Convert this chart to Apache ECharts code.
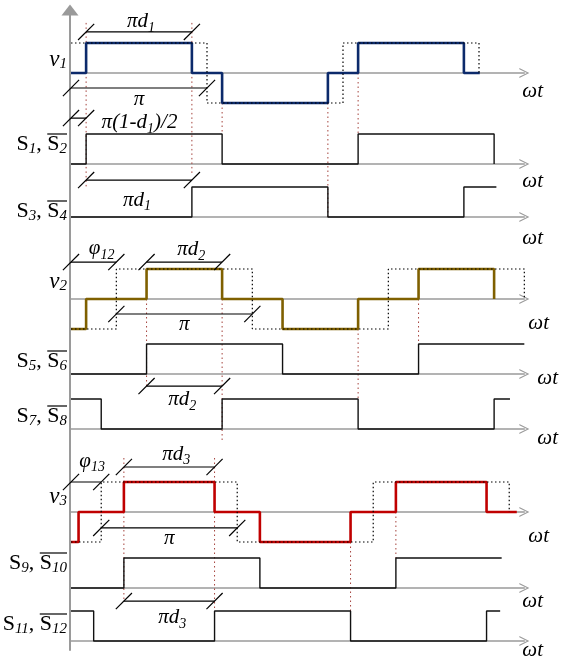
<!DOCTYPE html>
<html><head><meta charset="utf-8">
<script src="https://cdn.jsdelivr.net/npm/echarts@6/dist/echarts.min.js"></script>
<style>html,body{margin:0;padding:0;background:#fff}#c{width:565px;height:660px}</style>
</head><body><div id="c"></div><script>
// Time axis in electrical degrees (pi = 180).
// Waveforms: [time, level] pairs, level held until the next pair.
const v1Wave = [[0,0],[20,1],[160,0],[200,-1],[340,0],[380,1],[520,0],[541,0]];
const v1Square = [[0,1],[180,-1],[360,1],[540,0]];
const s1Wave = [[0,0],[20,1],[200,0],[380,1],[560,0]];
const s3Wave = [[0,0],[160,1],[340,0],[520,1],[563,1]];
const v2Wave = [[0,-1],[20,0],[100,1],[200,0],[280,-1],[380,0],[460,1],[560,0]];
const v2Square = [[0,-1],[60,1],[240,-1],[420,1],[600,0]];
const s5Wave = [[0,0],[100,1],[280,0],[460,1],[600,1]];
const s7Wave = [[0,1],[40,0],[200,1],[380,0],[560,1],[581,1]];
const v3Wave = [[0,-1],[10,0],[70,1],[190,0],[250,-1],[370,0],[430,1],[550,0],[590,0]];
const v3Square = [[0,-1],[40,1],[220,-1],[400,1],[580,0]];
const s9Wave = [[0,0],[70,1],[250,0],[430,1],[570,1]];
const s11Wave = [[0,1],[30,0],[190,1],[370,0],[550,1],[568,1]];

// Dimension marks: [row, from, to, level, text, subscript, tail]
const dimensions = [
  ['v1', 20, 160, 1.37, 'πd', '1', ''],
  ['v1', 0, 180, -0.5, 'π', '', ''],
  ['s1', 0, 20, 1.53, 'π(1-d', '1', ')/2'],
  ['s3', 20, 160, 1.23, 'πd', '1', ''],
  ['v2', 0, 60, 1.23, 'φ', '12', ''],
  ['v2', 100, 200, 1.23, 'πd', '2', ''],
  ['v2', 60, 240, -0.5, 'π', '', ''],
  ['s7', 100, 200, 1.43, 'πd', '2', ''],
  ['v3', 0, 40, 1.0, 'φ', '13', ''],
  ['v3', 70, 190, 1.5, 'πd', '3', ''],
  ['v3', 40, 220, -0.53, 'π', '', ''],
  ['s11', 70, 190, 1.33, 'πd', '3', '']
];
// Switching-instant guides: [time, fromRow, fromLevel, toRow, toLevel]
const guides = [
  [20, 'v1', 1.67, 's3', 1.0],
  [160, 'v1', 1.67, 's3', 1.47],
  [200, 'v1', -1, 's1', 1],
  [340, 'v1', -1, 's3', 0],
  [380, 'v1', 0, 's1', 1],
  [100, 'v2', 0, 's7', 1.43],
  [200, 'v2', 0, 's7', -0.37],
  [380, 'v2', -1, 's7', 1],
  [460, 'v2', 0, 's5', 1],
  [70, 'v3', 1.8, 's11', 1.33],
  [190, 'v3', 1.8, 's11', 1],
  [370, 'v3', -1, 's11', 1],
  [430, 'v3', 0, 's9', 1]
];
// Row names and labels: [main, subscript] pairs; the second pair carries an overbar
const rowNames = ['v1','s1','s3','v2','s5','s7','v3','s9','s11'];
const rowLabels = [
  [['v','1']], [['S','1'],['S','2']], [['S','3'],['S','4']],
  [['v','2']], [['S','5'],['S','6']], [['S','7'],['S','8']],
  [['v','3']], [['S','9'],['S','10']], [['S','11'],['S','12']]
];
const axisName = 'ωt';

// ---- layout ----
const rowBase = {v1:73, s1:164, s3:217, v2:299, s5:374, s7:429, v3:512, s9:588, s11:641};
const labelY = {v1:60, s1:145, s3:212, v2:282, s5:362, s7:417, v3:497, s9:564, s11:625};
const nameOff = {v1:[-2,91], s1:[-2,181], s3:[-2,238], v2:[4,323], s5:[13,378], s7:[13,438], v3:[4,536], s9:[-2,601], s11:[-2,650]};
// label offsets of the dimension texts from the middle of their lines, px
const dimLabelOff = [[2,-9],[0,13],[4,6],[-2,21.5],[8,-12],[7,-11],[0,11.5],[-2,15],[6,-19.5],[7,-11.5],[0,12],[3,18]];
const UNIT = 30, X0 = 71, PI_PX = 136, T_MAX = 600;
const gridW = T_MAX / 180 * PI_PX;
const FONT = '"Liberation Serif", "DejaVu Serif", serif';
const AXIS_GRAY = '#9a9a9a';
const rowIdx = Object.fromEntries(rowNames.map((r, i) => [r, i]));
const chevron = 'path://M5,0 L10,10 L8.8,10 L5,2.4 L1.2,10 L0,10 Z';
const slash = 'path://M0,19 L19,0 L20,1 L1,20 Z';
const isV = r => r[0] === 'v';
const yMin = r => isV(r) ? -2.5 : -0.5;
const yMax = 2.5;

const grid = rowNames.map(r => ({
  left: X0, top: rowBase[r] - yMax * UNIT, width: gridW, height: (yMax - yMin(r)) * UNIT,
  outerBoundsMode: 'none'
}));
grid.push({left: 70, top: 10, width: 10, height: 640, outerBoundsMode: 'none'});

const xAxis = rowNames.map((r, i) => ({
  gridIndex: i, type: 'value', min: 0, max: T_MAX,
  axisLine: {show: true, onZero: true, symbol: ['none', chevron], symbolSize: [15, 10],
    lineStyle: {color: AXIS_GRAY, width: 1.5}},
  axisTick: {show: false}, axisLabel: {show: false}, splitLine: {show: false}
}));
xAxis.push({gridIndex: 9, type: 'value', show: false});
const yAxis = rowNames.map((r, i) => ({
  gridIndex: i, type: 'value', min: yMin(r), max: yMax,
  axisLine: {show: false}, axisTick: {show: false}, axisLabel: {show: false}, splitLine: {show: false}
}));
yAxis.push({gridIndex: 9, type: 'value', min: 0, max: 1,
  axisLine: {show: true, onZero: false, symbol: ['none', 'triangle'], symbolSize: [17, 11],
    lineStyle: {color: AXIS_GRAY, width: 2}},
  axisTick: {show: false}, axisLabel: {show: false}, splitLine: {show: false}});

const series = [];
const onRow = r => ({xAxisIndex: rowIdx[r], yAxisIndex: rowIdx[r]});

// switching guides (drawn first, underneath)
guides.forEach(([t, ra, la, rb, lb]) => {
  const lbInA = lb - (rowBase[rb] - rowBase[ra]) / UNIT;
  series.push(Object.assign({
    type: 'line', data: [[t, la], [t, lbInA]], symbol: 'none', clip: false, silent: true, z: 1,
    lineStyle: {color: '#a4423c', width: 1, type: [1.5, 3]}
  }, onRow(ra)));
});

// waveforms
const waves = [
  ['v1', v1Wave, '#0c2a6b', 2.6], ['s1', s1Wave, '#111', 1.4], ['s3', s3Wave, '#111', 1.4],
  ['v2', v2Wave, '#7f6000', 2.6], ['s5', s5Wave, '#111', 1.4], ['s7', s7Wave, '#111', 1.4],
  ['v3', v3Wave, '#c00000', 2.6], ['s9', s9Wave, '#111', 1.4], ['s11', s11Wave, '#111', 1.4]
];
waves.forEach(([r, d, c, w]) => series.push(Object.assign({
  type: 'line', data: d, step: 'end', symbol: 'none', silent: true, z: 3,
  lineStyle: {color: c, width: w}
}, onRow(r))));

// fundamental square waves (dotted)
[['v1', v1Square], ['v2', v2Square], ['v3', v3Square]].forEach(([r, d]) => series.push(Object.assign({
  type: 'line', data: d, step: 'end', symbol: 'none', silent: true, z: 4,
  lineStyle: {color: '#000', width: 1.2, type: [1.5, 2.5]}
}, onRow(r))));

// rich text styles shared by labels
const LH = 24;
const richStyles = (size, subSize, italicMain) => ({
  m: {fontFamily: FONT, fontStyle: italicMain ? 'italic' : 'normal', fontSize: size, lineHeight: LH, verticalAlign: 'top', color: '#000', fill: '#000'},
  s: {fontFamily: FONT, fontStyle: 'italic', fontSize: subSize, lineHeight: 14, verticalAlign: 'bottom', color: '#000', fill: '#000'}
});
const richText = (main, sub, tail) => `{m|${main}}` + (sub ? `{s|${sub}}` : '') + (tail ? `{m|${tail}}` : '');

// dimension marks
dimensions.forEach(([r, a, b, lv, main, sub, tail], k) => {
  const short = tail !== '';
  const lab = {show: true, position: short ? 'right' : 'inside', distance: 3, offset: dimLabelOff[k],
    formatter: richText(main, sub, tail), rich: richStyles(21, 14, true)};
  const data = short
    ? [{value: [a, lv]}, {value: [b, lv], label: lab}]
    : [{value: [a, lv]}, {value: [(a + b) / 2, lv], symbol: 'circle', symbolSize: 0.01, label: lab}, {value: [b, lv]}];
  series.push(Object.assign({
    type: 'line', data, symbol: slash, symbolSize: [17, 17], showSymbol: true, clip: false,
    silent: true, z: 5, itemStyle: {color: '#000'}, lineStyle: {color: '#000', width: 1.2}
  }, onRow(r)));
});

// row labels, overbars and axis names
const ctx = document.createElement('canvas').getContext('2d');
const measure = (txt, size, italic) => { ctx.font = (italic ? 'italic ' : '') + size + 'px ' + FONT; return ctx.measureText(txt).width; };
const graphic = [];
rowNames.forEach((r, i) => {
  const parts = rowLabels[i];
  const v = isV(r);
  const size = v ? 23 : 22;
  const subSize = 15;
  const text = parts.map(([m, s]) => richText(m, s, '')).join('{m|, }');
  graphic.push({type: 'text', x: 67, y: labelY[r], silent: true,
    style: {text, rich: richStyles(size, subSize, v), align: 'right', verticalAlign: 'middle'}});
  if (parts.length > 1) {
    const [m, s] = parts[1];
    const w = measure(m, size, false) + measure(s, subSize, true);
    graphic.push({type: 'line', silent: true,
      shape: {x1: 67 - w, y1: labelY[r] - 11, x2: 67, y2: labelY[r] - 11},
      style: {stroke: '#000', lineWidth: 1.2}});
  }
  const [dx, cy] = nameOff[r];
  graphic.push({type: 'text', x: X0 + gridW + dx, y: cy, silent: true,
    style: {text: axisName, font: 'italic 21px ' + FONT, fill: '#000', align: 'left', verticalAlign: 'middle'}});
});

const chart = echarts.init(document.getElementById('c'));
chart.setOption({animation: false, grid, xAxis, yAxis, series, graphic});
</script></body></html>
